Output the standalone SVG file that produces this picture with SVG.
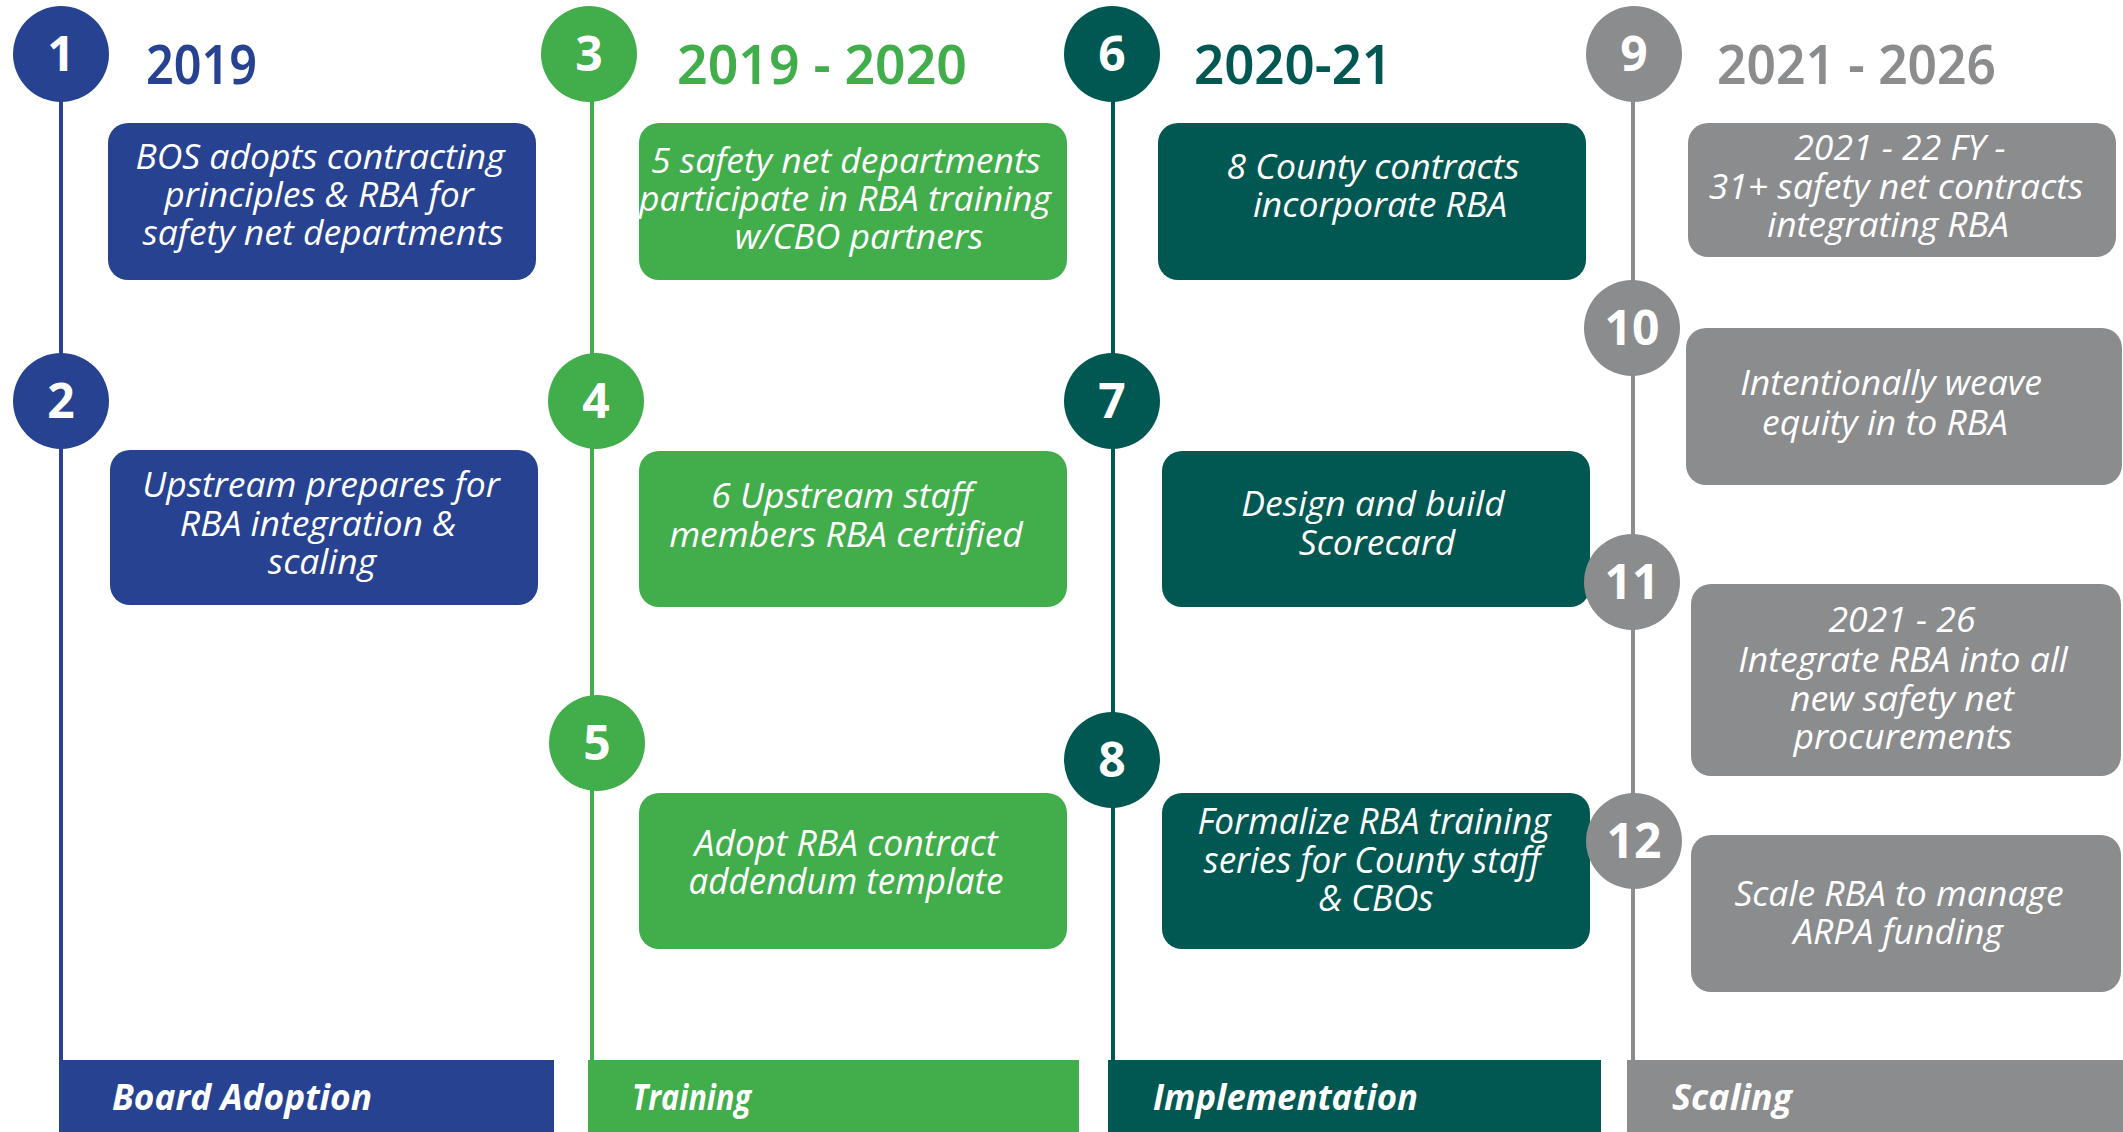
<svg xmlns="http://www.w3.org/2000/svg" width="2123" height="1132" viewBox="0 0 2123 1132">
<style>
.bg{fill:#ffffff}
.blue{fill:#274290}.green{fill:#42AD4B}.teal{fill:#015852}.gray{fill:#8B8C8E}
.lblue{stroke:#274290}.lgreen{stroke:#42AD4B}.lteal{stroke:#015852}.lgray{stroke:#8B8C8E}
.vline{stroke-width:4;fill:none}
.num{font-family:"Open Sans","Noto Sans",sans-serif;font-weight:700;font-size:48px;fill:#ffffff;text-anchor:middle}
.hdr{font-family:"Noto Sans","Open Sans",sans-serif;font-weight:600;font-size:54px}
.t{font-family:"Open Sans","Noto Sans",sans-serif;font-style:italic;font-size:35.5px;fill:#ffffff;text-anchor:middle}
.tc{font-family:"Open Sans","Noto Sans",sans-serif;font-style:italic;font-size:37px;fill:#ffffff;text-anchor:middle}
.bar{font-family:"Open Sans","Noto Sans",sans-serif;font-style:italic;font-weight:700;font-size:36px;fill:#ffffff}
</style>
<rect class="bg" x="0" y="0" width="2123" height="1132"/>

<g id="connectors">
  <line class="vline lblue" x1="61" y1="54" x2="61" y2="1062"/>
  <line class="vline lgreen" x1="592" y1="54" x2="592" y2="1062"/>
  <line class="vline lteal" x1="1113" y1="54" x2="1113" y2="1062"/>
  <line class="vline lgray" x1="1633" y1="54" x2="1633" y2="1062"/>
</g>

<!-- Column 1 -->
<g id="phase-board-adoption">
  <rect class="blue" x="59" y="1060" width="495" height="72"/>
  <text class="bar" x="112" y="1110" textLength="260" lengthAdjust="spacingAndGlyphs">Board Adoption</text>
</g>
<g id="node-1">
  <circle class="blue" cx="61" cy="54" r="48"/>
  <text class="num" x="61" y="71">1</text>
  <text class="hdr blue" x="146" y="84" textLength="111" lengthAdjust="spacingAndGlyphs">2019</text>
  <rect class="blue" x="108" y="123" width="428" height="157" rx="20"/>
  <text class="t" x="320" y="169">BOS adopts contracting</text>
  <text class="t" x="319" y="207">principles &amp; RBA for</text>
  <text class="t" x="323" y="245">safety net departments</text>
</g>
<g id="node-2">
  <circle class="blue" cx="61" cy="401" r="48"/>
  <text class="num" x="61" y="418">2</text>
  <rect class="blue" x="110" y="450" width="428" height="155" rx="20"/>
  <text class="t" x="321" y="497">Upstream prepares for</text>
  <text class="t" x="318" y="536">RBA integration &amp;</text>
  <text class="t" x="322" y="574">scaling</text>
</g>

<!-- Column 2 -->
<g id="phase-training">
  <rect class="green" x="588" y="1060" width="491" height="72"/>
  <text class="bar" x="632" y="1110" textLength="119" lengthAdjust="spacingAndGlyphs">Training</text>
</g>
<g id="node-3">
  <circle class="green" cx="589" cy="54" r="48"/>
  <text class="num" x="589" y="71">3</text>
  <text class="hdr green" x="677" y="84" textLength="290" lengthAdjust="spacingAndGlyphs">2019 - 2020</text>
  <rect class="green" x="639" y="123" width="428" height="157" rx="20"/>
  <text class="t" x="846" y="173">5 safety net departments</text>
  <text class="t" x="845" y="211">participate in RBA training</text>
  <text class="t" x="859" y="249">w/CBO partners</text>
</g>
<g id="node-4">
  <circle class="green" cx="596" cy="401" r="48"/>
  <text class="num" x="596" y="418">4</text>
  <rect class="green" x="639" y="451" width="428" height="156" rx="20"/>
  <text class="t" x="842" y="508">6 Upstream staff</text>
  <text class="t" x="846" y="547">members RBA certified</text>
</g>
<g id="node-5">
  <circle class="green" cx="597" cy="743" r="48"/>
  <text class="num" x="597" y="760">5</text>
  <rect class="green" x="639" y="793" width="428" height="156" rx="20"/>
  <text class="tc" x="846" y="856" textLength="303" lengthAdjust="spacingAndGlyphs">Adopt RBA contract</text>
  <text class="tc" x="846" y="894" textLength="315" lengthAdjust="spacingAndGlyphs">addendum template</text>
</g>

<!-- Column 3 -->
<g id="phase-implementation">
  <rect class="teal" x="1108" y="1060" width="493" height="72"/>
  <text class="bar" x="1153" y="1110" textLength="265" lengthAdjust="spacingAndGlyphs">Implementation</text>
</g>
<g id="node-6">
  <circle class="teal" cx="1112" cy="54" r="48"/>
  <text class="num" x="1112" y="71">6</text>
  <text class="hdr teal" x="1194" y="84" textLength="198" lengthAdjust="spacingAndGlyphs">2020-21</text>
  <rect class="teal" x="1158" y="123" width="428" height="157" rx="20"/>
  <text class="t" x="1373" y="179">8 County contracts</text>
  <text class="t" x="1380" y="217">incorporate RBA</text>
</g>
<g id="node-7">
  <circle class="teal" cx="1112" cy="401" r="48"/>
  <text class="num" x="1112" y="418">7</text>
  <rect class="teal" x="1162" y="451" width="428" height="156" rx="20"/>
  <text class="t" x="1373" y="516">Design and build</text>
  <text class="t" x="1377" y="555">Scorecard</text>
</g>
<g id="node-8">
  <circle class="teal" cx="1112" cy="760" r="48"/>
  <text class="num" x="1112" y="777">8</text>
  <rect class="teal" x="1162" y="793" width="428" height="156" rx="20"/>
  <text class="tc" x="1374" y="834" textLength="353" lengthAdjust="spacingAndGlyphs">Formalize RBA training</text>
  <text class="tc" x="1372" y="873" textLength="337" lengthAdjust="spacingAndGlyphs">series for County staff</text>
  <text class="tc" x="1376" y="911" textLength="115" lengthAdjust="spacingAndGlyphs">&amp; CBOs</text>
</g>

<!-- Column 4 -->
<g id="phase-scaling">
  <rect class="gray" x="1627" y="1060" width="496" height="72"/>
  <text class="bar" x="1672" y="1110" textLength="120" lengthAdjust="spacingAndGlyphs">Scaling</text>
</g>
<g id="node-9">
  <circle class="gray" cx="1634" cy="54" r="48"/>
  <text class="num" x="1634" y="71">9</text>
  <text class="hdr gray" x="1717" y="84" textLength="279" lengthAdjust="spacingAndGlyphs">2021 - 2026</text>
  <rect class="gray" x="1688" y="123" width="428" height="134" rx="20"/>
  <text class="t" x="1900" y="160">2021 - 22 FY -</text>
  <text class="t" x="1896" y="199">31+ safety net contracts</text>
  <text class="t" x="1888" y="237">integrating RBA</text>
</g>
<g id="node-10">
  <circle class="gray" cx="1632" cy="328" r="48"/>
  <text class="num" x="1632" y="345">10</text>
  <rect class="gray" x="1686" y="328" width="436" height="157" rx="20"/>
  <text class="t" x="1891" y="395">Intentionally weave</text>
  <text class="t" x="1885" y="435">equity in to RBA</text>
</g>
<g id="node-11">
  <circle class="gray" cx="1632" cy="582" r="48"/>
  <text class="num" x="1632" y="599">11</text>
  <rect class="gray" x="1691" y="584" width="430" height="192" rx="20"/>
  <text class="t" x="1902" y="632">2021 - 26</text>
  <text class="t" x="1903" y="672">Integrate RBA into all</text>
  <text class="t" x="1902" y="711">new safety net</text>
  <text class="t" x="1903" y="749">procurements</text>
</g>
<g id="node-12">
  <circle class="gray" cx="1634" cy="841" r="48"/>
  <text class="num" x="1634" y="858">12</text>
  <rect class="gray" x="1691" y="835" width="430" height="157" rx="20"/>
  <text class="t" x="1899" y="906">Scale RBA to manage</text>
  <text class="t" x="1898" y="944">ARPA funding</text>
</g>
</svg>
